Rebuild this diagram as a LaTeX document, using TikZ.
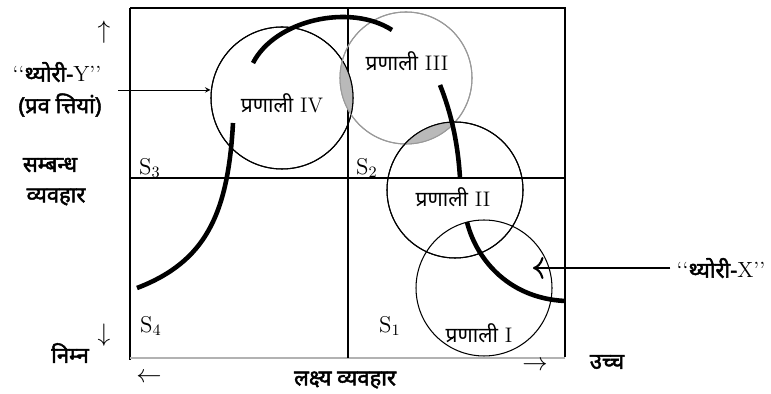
\documentclass[tikz,border=0pt]{standalone}
\usepackage{fontspec}
\newfontfamily\hindi[Script=Devanagari]{Noto Sans}
\newfontfamily\hindibf[Script=Devanagari, FakeBold=2.2]{Noto Sans}
\usetikzlibrary{positioning, arrows.meta}

\begin{document}
\begin{tikzpicture}[x=0.02cm, y=-0.02cm,
  frame/.style={line width=0.6pt},
  sysring/.style={circle, draw, line width=0.6pt, inner sep=0pt},
  sysname/.style={font=\fontsize{12}{14}\selectfont},
  axisname/.style={font=\hindibf\fontsize{12.5}{14}\selectfont},
  sname/.style={font=\fontsize{13}{15}\selectfont},
  trend/.style={line width=2.6pt},
  lens/.style={fill=gray!55},
  arr/.style={->, >=stealth, semithick}
]
\useasboundingbox (0,0) rectangle (771,394);

% --- frame and quadrants ---
\draw[frame] (130,8) -- (565,8) -- (565,357);
\draw[frame] (130,8) -- (130,360);
\draw[frame, gray!60] (130,358) -- (565,358);
\draw[frame] (348,8) -- (348,358);
\draw[frame] (130,178) -- (565,178);

\node[sname, anchor=west] (s3) at (133,168) {S$_3$};
\node[sname, anchor=west] (s2) at (350,168) {S$_2$};
\node[sname, anchor=west] (s4) at (134,326) {S$_4$};
\node[sname, anchor=west] (s1) at (373,326) {S$_1$};

% --- systems ---
\node[sysring, minimum size=2.84cm] (c4) at (282,98) {};
\node[sysring, minimum size=2.64cm, draw=gray!80] (c3) at (406,78) {};
\node[sysring, minimum size=2.72cm] (c2) at (455,190) {};
\node[sysring, minimum size=2.72cm] (c1) at (484,288) {};

% shaded overlaps
\begin{scope}
  \clip (c4.center) circle [radius=71];
  \fill[lens] (c3.center) circle [radius=66];
\end{scope}
\begin{scope}
  \clip (c3.center) circle [radius=66];
  \fill[lens] (c2.center) circle [radius=68];
\end{scope}
\draw[line width=0.6pt] (c4.center) circle [radius=71];
\draw[line width=0.6pt, gray!80] (c3.center) circle [radius=66];
\draw[line width=0.6pt] (c2.center) circle [radius=68];

\node[sysname] (l4) at (282,103) {{\hindi प्रणाली} IV};
\node[sysname] (l3) at (407,61) {{\hindi प्रणाली} III};
\node[sysname] (l2) at (453,197) {{\hindi प्रणाली} II};
\node[sysname] (l1) at (479,333) {{\hindi प्रणाली} I};

% --- trend curves ---
\draw[trend] (253,63) .. controls (275,20) and (350,3) .. (392,30);
\draw[trend] (233,123) .. controls (228,215) and (205,262) .. (137,288);
\draw[trend] (440,85) .. controls (452,115) and (458,145) .. (460,178);
\draw[trend] (467,222) .. controls (475,255) and (505,298) .. (565,301);

% --- labels on the left ---
\node[axisname] (tY) at (57,72) {{\rmfamily ‘‘}थ्योरी-{\rmfamily Y’’}};
\node[axisname] (tYsub) at (60,105) {(प्रव त्तियां)};
\coordinate (yStart) at (118,90);
\draw[arr, thin] (yStart) -- (yStart -| c4.west);

\node[axisname] (rel1) at (50,165) {सम्बन्ध};
\node[axisname] (rel2) at (56,197) {व्यवहार};
\node[axisname] (low) at (70,353) {निम्न};
\node[font=\Large] (up) at (104,32) {$\uparrow$};
\node[font=\Large] (down) at (104,335) {$\downarrow$};

% --- labels below and right ---
\node[font=\Large] (left) at (149,378) {$\leftarrow$};
\node[font=\Large] (right) at (535,366) {$\rightarrow$};
\node[axisname] (goal) at (345,380) {लक्ष्य व्यवहार};
\node[axisname] (high) at (607,362) {उच्च};

\node[axisname] (tX) at (721,268) {{\rmfamily ‘‘}थ्योरी-{\rmfamily X’’}};
\coordinate (xTip) at (533,268);
\draw[->, >={To[length=6pt]}, line width=1.2pt] (tX.west) -- (xTip);

\end{tikzpicture}
\end{document}
